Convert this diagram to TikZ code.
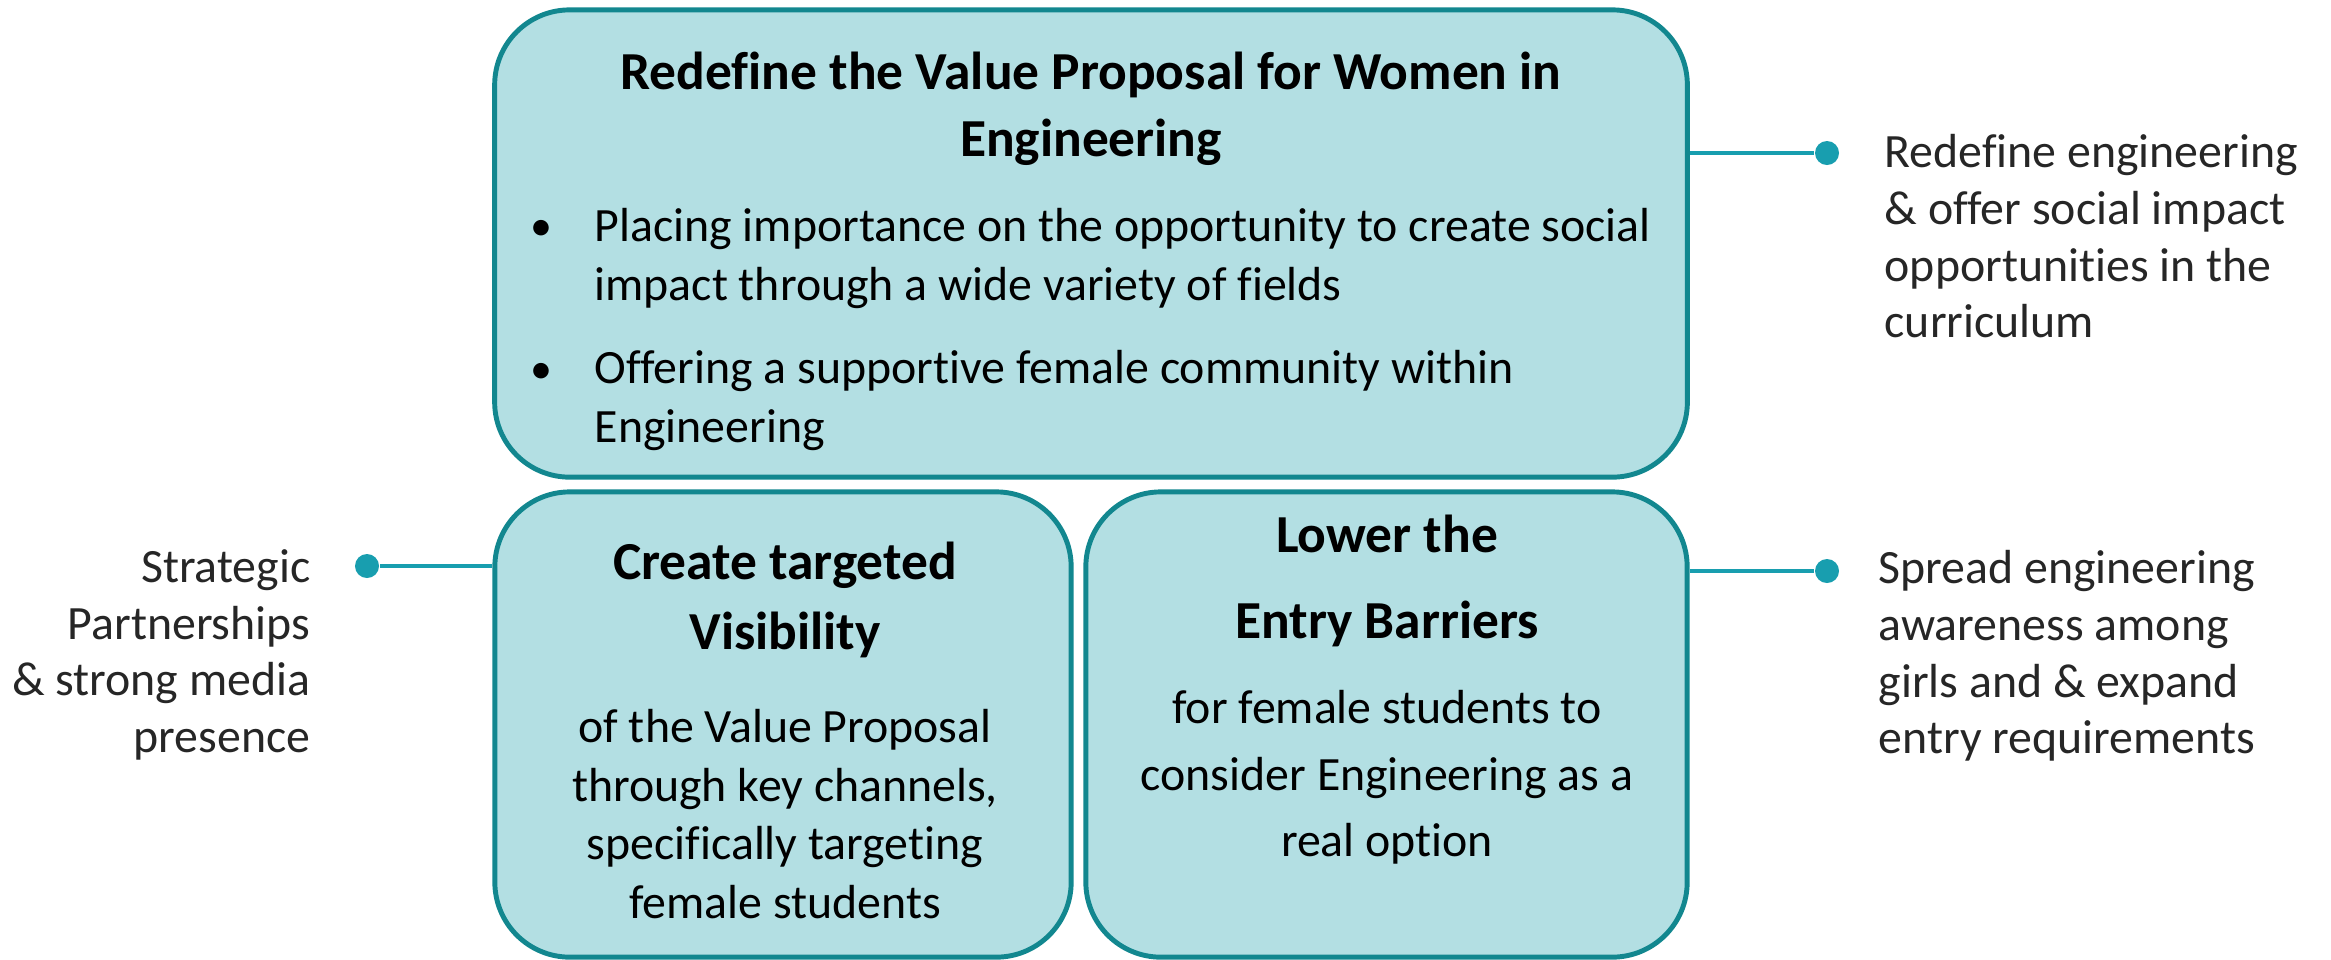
\documentclass[tikz,border=0pt]{standalone}
\usepackage{fontspec}
\setmainfont{Carlito}[Ligatures=NoCommon]
\usepackage{tikz}

\definecolor{panelfill}{HTML}{B3DFE3}
\definecolor{panelline}{HTML}{12878F}
\definecolor{dotteal}{HTML}{189EAF}
\definecolor{sidegray}{HTML}{262626}

\tikzset{
    panel/.style={draw=panelline, fill=panelfill, line width=1.4pt, rounded corners=0.75cm, inner sep=0pt},
    headtext/.style={align=center, anchor=north, inner sep=0pt},
    bodytext/.style={inner sep=0pt},
    sidetext/.style={text=sidegray, inner sep=0pt},
    knob/.style={circle, fill=dotteal, minimum size=0.24cm, inner sep=0pt},
    link/.style={draw=dotteal, line width=0.9pt}
}

\begin{document}
\begin{tikzpicture}[x=0.01cm, y=-0.01cm]
    \useasboundingbox (0,0) rectangle (2331,959);

    % The three boxes
    \node[panel, minimum width=11.92cm, minimum height=4.67cm] (value) at (1091,243.5) {};
    \node[panel, minimum width=5.76cm, minimum height=4.65cm] (vis) at (783,724.5) {};
    \node[panel, minimum width=6.01cm, minimum height=4.65cm] (entry) at (1386.5,724.5) {};

    % Text of the top box
    \node[headtext, font=\bfseries\fontsize{15.2}{19.06}\selectfont] (valuehead) at (1091,51)
        {Redefine the Value Proposal for Women in\\Engineering};
    \node[bodytext, anchor=north west, align=left, font=\fontsize{13.6}{16.6}\selectfont] (itemA) at (594,208)
        {Placing importance on the opportunity to create social\\impact through a wide variety of fields};
    \node[bodytext, anchor=north west, align=left, font=\fontsize{13.6}{16.6}\selectfont] (itemB) at (594,350)
        {Offering a supportive female community within\\Engineering};
    \node[bodytext, anchor=base, font=\fontsize{12.5}{16.5}\selectfont] (bulA) at (541,240) {\textbullet};
    \node[bodytext, anchor=base, font=\fontsize{12.5}{16.5}\selectfont] (bulB) at (541,383) {\textbullet};

    % Text of the bottom left box
    \node[headtext, font=\bfseries\fontsize{15.2}{19.9}\selectfont] (vishead) at (785,541)
        {Create targeted\\Visibility};
    \node[headtext, font=\fontsize{13.6}{16.6}\selectfont] (visbody) at (785,709)
        {of the Value Proposal\\through key channels,\\specifically targeting\\female students};

    % Text of the bottom right box
    \node[headtext, font=\bfseries\fontsize{15.2}{24.5}\selectfont] (entryhead) at (1387,514)
        {Lower the\\Entry Barriers};
    \node[headtext, font=\fontsize{13.6}{18.8}\selectfont] (entrybody) at (1387,690)
        {for female students to\\consider Engineering as a\\real option};

    % Side notes with their dots
    \node[knob] (dotA) at (1827,153) {};
    \node[knob] (dotB) at (367,566) {};
    \node[knob] (dotC) at (1827,571) {};

    \draw[link] (dotA -| value.east) -- (dotA);
    \draw[link] (dotB -| vis.west) -- (dotB);
    \draw[link] (dotC -| entry.east) -- (dotC);

    \node[sidetext, anchor=north west, align=left, font=\fontsize{13.6}{16.1}\selectfont] (noteA) at (1884,134)
        {Redefine engineering\\\& offer social impact\\opportunities in the\\curriculum};
    \node[sidetext, anchor=north east, align=right, font=\fontsize{13.6}{16.1}\selectfont] (noteB) at (311,549)
        {Strategic\\Partnerships\\\& strong media\\presence};
    \node[sidetext, anchor=north west, align=left, font=\fontsize{13.6}{16.1}\selectfont] (noteC) at (1878,550)
        {Spread engineering\\awareness among\\girls and \& expand\\entry requirements};
\end{tikzpicture}
\end{document}
